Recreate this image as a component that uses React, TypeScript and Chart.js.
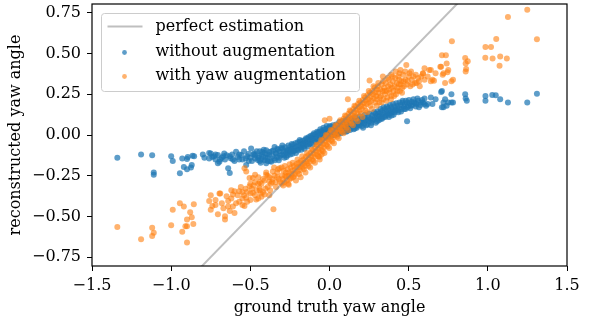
import React, { useEffect, useRef } from "react";
import { Chart, registerables } from "chart.js";

Chart.register(...registerables);

const FONT = "'DejaVu Serif', 'Liberation Serif', serif";

const xTicks = [-1.5, -1.0, -0.5, 0.0, 0.5, 1.0, 1.5];
const yTicks = [-0.75, -0.5, -0.25, 0.0, 0.25, 0.5, 0.75];
const xRange = [-1.5, 1.5];
const yRange = [-0.805, 0.805];
const xTitle = "ground truth yaw angle";
const yTitle = "reconstructed yaw angle";
const legendLabels = ["perfect estimation", "without augmentation", "with yaw augmentation"];

const perfectLine: [number, number][] = [[-1.5, -1.5], [1.5, 1.5]];

const withoutAugmentationA: [number, number][] = [
  [-1.34, -0.14], [-1.19, -0.12], [-1.12, -0.125], [-1.11, -0.23], [-1.11, -0.245], [-1.0, -0.13], [-0.99, -0.16],
  [-0.945, -0.235], [-0.93, -0.145], [-0.92, -0.196], [-0.9, -0.148], [-0.9, -0.21], [-0.895, -0.135], [-0.87, -0.184],
  [-0.865, -0.127], [-0.855, -0.13], [-0.875, -0.2], [-0.8, -0.12], [-0.79, -0.14],
  [-0.76, -0.11], [-0.76, -0.145], [-0.75, -0.113], [-0.74, -0.135], [-0.73, -0.13], [-0.72, -0.15], [-0.705, -0.123],
  [-0.705, -0.174], [-0.695, -0.164], [-0.68, -0.14], [-0.665, -0.113], [-0.66, -0.15], [-0.65, -0.125], [-0.64, -0.204],
  [-0.63, -0.234], [-0.625, -0.143], [-0.615, -0.12], [-0.6, -0.16], [-0.59, -0.103], [-0.58, -0.135], [-0.57, -0.15],
  [-0.558, -0.123], [-0.55, -0.15], [-0.54, -0.1], [-0.526, -0.184], [-0.52, -0.13], [-0.51, -0.115], [-0.5, -0.14],
  [-0.495, -0.083], [-0.49, -0.16], [-0.48, -0.12], [-0.474, -0.113], [-0.47, -0.145], [-0.46, -0.1], [-0.453, -0.153],
  [-0.445, -0.13], [-0.44, -0.1], [-0.435, -0.17], [-0.43, -0.12], [-0.42, -0.133], [-0.415, -0.09], [-0.41, -0.155],
  [-0.4, -0.093], [-0.4, -0.174], [-0.395, -0.12], [-0.39, -0.14], [-0.38, -0.123], [-0.38, -0.105], [-0.375, -0.16],
  [-0.368, -0.164], [-0.36, -0.13], [-0.355, -0.095], [-0.35, -0.145], [-0.347, -0.073], [-0.34, -0.11], [-0.337, -0.113],
  [-0.33, -0.135], [-0.325, -0.09], [-0.32, -0.155], [-0.315, -0.1], [-0.31, -0.125], [-0.305, -0.08],
  [-0.72, -0.12], [-0.69, -0.15], [-0.67, -0.13], [-0.63, -0.13], [-0.61, -0.15], [-0.57, -0.12], [-0.53, -0.145],
  [-0.51, -0.16], [-0.47, -0.125], [-0.45, -0.14], [-0.43, -0.15], [-0.41, -0.11],
];

const withoutAugmentationB: [number, number][] = [
  [-0.3, -0.12], [-0.295, -0.085], [-0.29, -0.1], [-0.285, -0.14], [-0.28, -0.075], [-0.275, -0.11], [-0.27, -0.095],
  [-0.265, -0.125], [-0.26, -0.065], [-0.255, -0.09], [-0.25, -0.105], [-0.245, -0.07], [-0.24, -0.085], [-0.235, -0.115],
  [-0.23, -0.06], [-0.225, -0.08], [-0.22, -0.095], [-0.215, -0.05], [-0.21, -0.07], [-0.205, -0.088], [-0.2, -0.045],
  [-0.195, -0.065], [-0.19, -0.08], [-0.185, -0.04], [-0.18, -0.055], [-0.175, -0.075], [-0.17, -0.035], [-0.165, -0.05],
  [-0.16, -0.068], [-0.155, -0.03], [-0.15, -0.045], [-0.145, -0.06], [-0.14, -0.022], [-0.135, -0.04], [-0.13, -0.012],
  [-0.125, -0.03], [-0.12, -0.05], [-0.115, -0.015], [-0.11, -0.028], [-0.105, 0.0], [-0.1, -0.018], [-0.095, -0.035],
  [-0.09, 0.005], [-0.085, -0.01], [-0.08, -0.025], [-0.075, 0.012], [-0.07, -0.005], [-0.065, 0.02], [-0.06, -0.015],
  [-0.055, 0.008], [-0.05, 0.025], [-0.045, -0.002], [-0.04, 0.018], [-0.035, 0.03], [-0.03, 0.005], [-0.025, 0.022],
  [-0.02, 0.038], [-0.015, 0.01], [-0.01, 0.028], [-0.005, 0.045], [0.0, 0.015], [0.005, 0.03], [0.01, 0.05],
  [0.015, 0.02], [0.02, 0.035], [0.03, 0.01], [0.035, 0.042], [0.04, 0.025], [0.05, 0.055], [0.055, 0.03],
  [0.06, 0.015], [0.065, 0.045], [0.07, 0.06], [0.075, 0.028], [0.08, 0.04], [0.09, 0.065], [0.095, 0.035],
  [0.1, 0.05], [0.105, 0.02], [0.11, 0.07], [0.115, 0.04], [0.12, 0.055], [0.13, 0.03], [0.135, 0.075],
  [0.14, 0.045], [0.15, 0.06], [0.155, 0.085], [0.16, 0.04], [0.17, 0.07], [0.175, 0.055], [0.18, 0.09],
  [0.19, 0.06], [0.195, 0.078], [0.2, 0.1], [0.205, 0.055], [0.21, 0.085], [0.22, 0.07], [0.225, 0.105],
  [0.23, 0.09], [0.24, 0.065], [0.245, 0.11], [0.25, 0.085], [0.26, 0.1], [0.265, 0.075], [0.27, 0.12],
  [0.28, 0.095], [0.285, 0.11], [0.29, 0.13], [0.3, 0.085], [0.3, 0.115],
  [-0.44, -0.16], [-0.425, -0.105], [-0.405, -0.14], [-0.39, -0.16], [-0.365, -0.1], [-0.345, -0.155], [-0.33, -0.085],
  [-0.318, -0.14], [-0.298, -0.065], [-0.288, -0.125], [-0.272, -0.135], [-0.262, -0.1], [-0.248, -0.12], [-0.238, -0.055],
  [-0.228, -0.1], [-0.212, -0.11], [-0.198, -0.095], [-0.188, -0.03], [-0.178, -0.09], [-0.168, -0.06], [-0.158, -0.085],
  [-0.148, -0.02], [-0.138, -0.07], [-0.128, -0.055], [-0.118, -0.005], [-0.108, -0.06], [-0.098, 0.01], [-0.088, -0.045],
  [-0.078, 0.02], [-0.068, -0.035], [-0.058, 0.035], [-0.048, -0.025], [-0.038, 0.045], [-0.028, -0.015], [-0.018, 0.055],
  [-0.008, -0.01], [0.002, 0.055], [0.012, -0.005], [0.022, 0.06], [0.032, 0.0], [0.042, 0.065], [0.052, 0.005],
  [0.062, 0.08], [0.072, 0.01], [0.082, 0.085], [0.092, 0.02], [0.102, 0.09], [0.112, 0.025], [0.122, 0.095],
  [0.132, 0.05], [0.142, 0.1], [0.152, 0.035], [0.162, 0.11], [0.172, 0.045], [0.182, 0.065], [0.192, 0.115],
  [0.202, 0.075], [0.212, 0.045], [0.222, 0.125], [0.232, 0.06], [0.242, 0.095], [0.252, 0.13], [0.262, 0.06],
  [0.272, 0.09], [0.282, 0.14], [0.292, 0.075],
];

const withoutAugmentationC: [number, number][] = [
  [0.305, 0.1], [0.31, 0.13], [0.315, 0.115], [0.32, 0.14], [0.325, 0.1], [0.33, 0.125], [0.335, 0.15],
  [0.34, 0.11], [0.345, 0.135], [0.35, 0.16], [0.355, 0.12], [0.36, 0.145], [0.365, 0.13], [0.37, 0.165],
  [0.375, 0.11], [0.38, 0.15], [0.385, 0.135], [0.39, 0.17], [0.395, 0.14], [0.4, 0.155], [0.405, 0.125],
  [0.41, 0.175], [0.415, 0.15], [0.42, 0.16], [0.43, 0.18], [0.435, 0.14], [0.44, 0.165], [0.45, 0.185],
  [0.455, 0.16], [0.46, 0.2], [0.47, 0.175], [0.475, 0.19], [0.48, 0.16], [0.49, 0.085], [0.49, 0.2],
  [0.5, 0.18], [0.505, 0.195], [0.51, 0.165], [0.52, 0.205], [0.525, 0.185], [0.535, 0.2], [0.545, 0.175],
  [0.55, 0.19], [0.56, 0.21], [0.575, 0.185], [0.58, 0.2], [0.59, 0.2], [0.6, 0.225], [0.61, 0.18], [0.62, 0.19],
  [0.302, 0.145], [0.312, 0.09], [0.322, 0.16], [0.332, 0.1], [0.342, 0.17], [0.352, 0.11], [0.362, 0.175],
  [0.372, 0.125], [0.382, 0.185], [0.392, 0.12], [0.402, 0.19], [0.412, 0.14], [0.422, 0.195], [0.432, 0.15],
  [0.442, 0.2], [0.452, 0.145], [0.462, 0.21], [0.472, 0.16], [0.482, 0.21], [0.492, 0.17], [0.502, 0.215],
  [0.515, 0.18], [0.53, 0.22], [0.545, 0.195], [0.555, 0.225], [0.565, 0.17], [0.585, 0.215], [0.6, 0.19],
  [0.64, 0.23], [0.65, 0.19], [0.67, 0.22], [0.705, 0.265], [0.71, 0.27], [0.71, 0.17], [0.72, 0.2], [0.72, 0.17],
  [0.73, 0.22], [0.74, 0.18], [0.75, 0.2], [0.77, 0.25], [0.77, 0.2], [0.78, 0.2], [0.857, 0.25], [0.86, 0.225],
  [0.867, 0.21], [0.985, 0.24], [0.985, 0.21], [1.028, 0.246], [1.05, 0.245], [1.078, 0.22], [1.127, 0.2],
  [1.249, 0.2], [1.31, 0.253],
];

const withYawAugmentationA: [number, number][] = [
  [-1.34, -0.565], [-1.19, -0.64], [-1.12, -0.57], [-1.11, -0.6], [-1.12, -0.62], [-1.0, -0.555], [-0.99, -0.46],
  [-0.945, -0.42], [-0.92, -0.44], [-0.93, -0.595], [-0.91, -0.56], [-0.9, -0.56], [-0.9, -0.52], [-0.9, -0.66],
  [-0.88, -0.475], [-0.87, -0.505], [-0.857, -0.426], [-0.86, -0.547], [-0.76, -0.406], [-0.75, -0.46], [-0.695, -0.36],
  [-0.74, -0.436], [-0.705, -0.487], [-0.66, -0.52], [-0.63, -0.467], [-0.6, -0.48], [-0.64, -0.406], [-0.61, -0.366],
  [-0.57, -0.345], [-0.537, -0.436], [-0.526, -0.386], [-0.484, -0.355], [-0.505, -0.315], [-0.463, -0.396],
  [-0.442, -0.325], [-0.41, -0.366], [-0.38, -0.285], [-0.4, -0.244], [-0.526, -0.224], [-0.484, -0.265],
  [-0.358, -0.224], [-0.316, -0.204], [-0.354, -0.456], [-0.257, -0.305],
  [-0.537, -0.204], [-0.505, -0.265], [-0.47, -0.245], [-0.44, -0.29], [-0.4, -0.23], [-0.38, -0.26], [-0.35, -0.2],
  [-0.33, -0.26], [-0.6, -0.345], [-0.53, -0.33], [-0.5, -0.36], [-0.55, -0.39], [-0.59, -0.42], [-0.65, -0.376],
  [-0.69, -0.36], [-0.72, -0.4], [-0.75, -0.37], [-0.67, -0.45], [-0.61, -0.44], [-0.55, -0.43], [-0.5, -0.4],
  [-0.45, -0.39], [-0.42, -0.35], [-0.38, -0.37], [-0.66, -0.5], [-0.58, -0.37], [-0.56, -0.32], [-0.52, -0.35],
  [-0.48, -0.31], [-0.46, -0.34], [-0.43, -0.3], [-0.41, -0.28], [-0.39, -0.32], [-0.37, -0.3], [-0.36, -0.27],
  [-0.34, -0.29], [-0.33, -0.23], [-0.32, -0.27],
  [-0.72, -0.43], [-0.68, -0.42], [-0.64, -0.44], [-0.62, -0.39], [-0.57, -0.41], [-0.54, -0.37], [-0.52, -0.41],
  [-0.49, -0.33], [-0.47, -0.37], [-0.44, -0.34], [-0.43, -0.38], [-0.47, -0.29], [-0.45, -0.26], [-0.5, -0.3],
  [-0.55, -0.35], [-0.62, -0.34],
];

const withYawAugmentationB: [number, number][] = [
  [-0.3, -0.25], [-0.3, -0.3], [-0.295, -0.27], [-0.29, -0.22], [-0.285, -0.29], [-0.28, -0.25], [-0.275, -0.23],
  [-0.27, -0.28], [-0.265, -0.21], [-0.26, -0.25], [-0.255, -0.23], [-0.25, -0.27], [-0.245, -0.2], [-0.24, -0.24],
  [-0.235, -0.22], [-0.23, -0.26], [-0.225, -0.19], [-0.22, -0.215], [-0.215, -0.24], [-0.21, -0.18], [-0.205, -0.2],
  [-0.2, -0.225], [-0.195, -0.17], [-0.19, -0.195], [-0.185, -0.215], [-0.18, -0.16], [-0.175, -0.18], [-0.17, -0.2],
  [-0.165, -0.15], [-0.16, -0.17], [-0.155, -0.19], [-0.15, -0.135], [-0.145, -0.16], [-0.14, -0.175], [-0.135, -0.125],
  [-0.13, -0.145], [-0.125, -0.165], [-0.12, -0.11], [-0.115, -0.13], [-0.11, -0.15], [-0.105, -0.095], [-0.1, -0.115],
  [-0.095, -0.135], [-0.09, -0.08], [-0.085, -0.1], [-0.08, -0.12], [-0.075, -0.065], [-0.07, -0.085], [-0.065, -0.105],
  [-0.063, -0.133], [-0.06, -0.05], [-0.055, -0.07], [-0.05, -0.09], [-0.05, -0.12], [-0.045, -0.035], [-0.04, -0.055],
  [-0.035, -0.075], [-0.03, 0.09], [-0.03, -0.02], [-0.025, -0.04], [-0.02, -0.06], [-0.015, -0.005], [-0.01, -0.025],
  [-0.005, -0.045], [0.0, 0.1], [0.0, 0.01], [0.005, -0.01], [0.01, -0.03], [0.015, 0.025], [0.02, 0.005],
  [0.025, -0.015], [0.03, 0.04], [0.035, 0.02], [0.04, 0.0], [0.045, 0.055], [0.05, 0.035], [0.055, 0.015],
  [0.06, 0.07], [0.065, 0.05], [0.07, 0.03], [0.075, 0.085], [0.08, 0.065], [0.085, 0.045], [0.09, 0.1],
  [0.095, 0.08], [0.1, 0.06], [0.105, 0.115], [0.11, 0.095], [0.115, 0.075], [0.116, 0.22], [0.12, 0.13],
  [0.125, 0.11], [0.13, 0.09], [0.135, 0.145], [0.14, 0.125], [0.145, 0.105], [0.15, 0.16], [0.155, 0.14],
  [0.16, 0.12], [0.165, 0.175], [0.17, 0.155], [0.175, 0.135], [0.18, 0.19], [0.185, 0.17], [0.19, 0.15],
  [0.195, 0.2], [0.2, 0.18], [0.205, 0.16], [0.21, 0.215], [0.215, 0.195], [0.22, 0.175], [0.225, 0.23],
  [0.23, 0.21], [0.235, 0.19], [0.24, 0.245], [0.245, 0.22], [0.25, 0.2], [0.253, 0.335], [0.255, 0.26],
  [0.26, 0.235], [0.265, 0.21], [0.27, 0.27], [0.275, 0.25], [0.28, 0.225], [0.285, 0.29], [0.29, 0.26],
  [0.295, 0.24], [0.3, 0.28],
  [-0.45, -0.3], [-0.435, -0.36], [-0.42, -0.27], [-0.405, -0.33], [-0.39, -0.25], [-0.375, -0.34], [-0.362, -0.29],
  [-0.348, -0.25], [-0.338, -0.32], [-0.325, -0.21], [-0.312, -0.29], [-0.302, -0.2], [-0.292, -0.31], [-0.282, -0.19],
  [-0.272, -0.255], [-0.262, -0.3], [-0.252, -0.18], [-0.242, -0.265], [-0.232, -0.17], [-0.222, -0.25], [-0.212, -0.28],
  [-0.202, -0.15], [-0.192, -0.24], [-0.182, -0.26], [-0.172, -0.13], [-0.162, -0.21], [-0.152, -0.23], [-0.142, -0.11],
  [-0.132, -0.19], [-0.122, -0.2], [-0.112, -0.09], [-0.102, -0.16], [-0.092, -0.17], [-0.082, -0.06], [-0.072, -0.13],
  [-0.062, -0.15], [-0.052, -0.03], [-0.042, -0.1], [-0.032, -0.11], [-0.022, 0.0], [-0.012, -0.07], [-0.002, -0.08],
  [0.008, 0.03], [0.018, -0.04], [0.028, -0.05], [0.038, 0.06], [0.048, -0.01], [0.058, -0.02], [0.068, 0.09],
  [0.078, 0.02], [0.088, 0.01], [0.098, 0.12], [0.108, 0.045], [0.118, 0.03], [0.128, 0.15], [0.138, 0.07],
  [0.148, 0.06], [0.158, 0.18], [0.168, 0.1], [0.178, 0.085], [0.188, 0.21], [0.198, 0.13], [0.208, 0.11],
  [0.218, 0.24], [0.228, 0.15], [0.238, 0.14], [0.248, 0.27], [0.258, 0.18], [0.268, 0.16], [0.278, 0.3],
  [0.288, 0.2], [0.298, 0.18],
];

const withYawAugmentationC: [number, number][] = [
  [0.3, 0.22], [0.305, 0.3], [0.31, 0.26], [0.315, 0.2], [0.32, 0.28], [0.325, 0.24], [0.33, 0.31], [0.335, 0.27],
  [0.337, 0.36], [0.34, 0.22], [0.345, 0.29], [0.35, 0.25], [0.355, 0.32], [0.36, 0.27], [0.365, 0.23], [0.37, 0.3],
  [0.375, 0.34], [0.38, 0.26], [0.385, 0.31], [0.39, 0.37], [0.39, 0.24], [0.395, 0.29], [0.4, 0.33], [0.405, 0.27],
  [0.41, 0.3], [0.415, 0.35], [0.42, 0.25], [0.425, 0.32], [0.43, 0.29], [0.435, 0.36], [0.44, 0.34], [0.442, 0.38],
  [0.445, 0.27], [0.45, 0.31], [0.455, 0.33], [0.46, 0.29], [0.465, 0.37], [0.47, 0.3], [0.48, 0.34], [0.485, 0.43],
  [0.49, 0.31], [0.5, 0.36], [0.505, 0.38], [0.51, 0.3], [0.52, 0.34], [0.53, 0.36], [0.54, 0.32], [0.55, 0.32],
  [0.56, 0.35], [0.57, 0.3], [0.59, 0.376], [0.59, 0.38], [0.6, 0.34],
  [0.308, 0.32], [0.318, 0.23], [0.328, 0.2], [0.338, 0.33], [0.348, 0.27], [0.358, 0.21], [0.368, 0.35],
  [0.378, 0.28], [0.388, 0.22], [0.398, 0.36], [0.408, 0.24], [0.418, 0.39], [0.428, 0.27], [0.438, 0.31],
  [0.448, 0.4], [0.458, 0.26], [0.468, 0.33], [0.478, 0.39], [0.495, 0.33], [0.515, 0.39], [0.525, 0.31],
  [0.545, 0.37], [0.565, 0.33], [0.58, 0.36], [0.6, 0.41], [0.62, 0.36],
  [0.63, 0.4], [0.64, 0.4], [0.64, 0.33], [0.65, 0.34], [0.66, 0.333], [0.67, 0.38], [0.7, 0.42], [0.705, 0.42],
  [0.71, 0.49], [0.715, 0.37], [0.72, 0.38], [0.73, 0.32], [0.735, 0.49], [0.74, 0.44], [0.745, 0.385], [0.75, 0.4],
  [0.77, 0.33], [0.773, 0.576], [0.78, 0.34], [0.857, 0.473], [0.86, 0.44], [0.86, 0.39], [0.863, 0.406],
  [0.873, 0.453], [0.984, 0.475], [0.985, 0.54], [1.02, 0.54], [1.03, 0.47], [1.053, 0.59], [1.074, 0.426],
  [1.078, 0.483], [1.12, 0.47], [1.127, 0.725], [1.249, 0.77], [1.31, 0.588],
];

const BLUE = "rgba(31,119,180,0.72)";
const ORANGE = "rgba(255,127,14,0.6)";
const GRAY = "rgba(128,128,128,0.5)";

const fmt = (v: number, d: number) => v.toFixed(d).replace("-", "\u2212");
const toPts = (...arrs: [number, number][][]) => arrs.flat().map(([x, y]) => ({ x, y }));

const framePlugin = {
  id: "frame",
  afterDatasetsDraw(chart: any) {
    const { ctx, chartArea } = chart;
    ctx.save();
    ctx.strokeStyle = "#000";
    ctx.lineWidth = 1.2;
    ctx.strokeRect(chartArea.left, chartArea.top, chartArea.right - chartArea.left, chartArea.bottom - chartArea.top);
    ctx.restore();
  },
};

const legendPlugin = {
  id: "mplLegend",
  afterDraw(chart: any) {
    const { ctx, chartArea } = chart;
    const bx = chartArea.left + 9.5;
    const by = chartArea.top + 9.5;
    const bw = 258;
    const bh = 78;
    const r = 3;
    ctx.save();
    ctx.beginPath();
    ctx.moveTo(bx + r, by);
    ctx.lineTo(bx + bw - r, by);
    ctx.arcTo(bx + bw, by, bx + bw, by + r, r);
    ctx.lineTo(bx + bw, by + bh - r);
    ctx.arcTo(bx + bw, by + bh, bx + bw - r, by + bh, r);
    ctx.lineTo(bx + r, by + bh);
    ctx.arcTo(bx, by + bh, bx, by + bh - r, r);
    ctx.lineTo(bx, by + r);
    ctx.arcTo(bx, by, bx + r, by, r);
    ctx.closePath();
    ctx.fillStyle = "rgba(255,255,255,0.8)";
    ctx.fill();
    ctx.strokeStyle = "#cccccc";
    ctx.lineWidth = 1;
    ctx.stroke();

    const rows = [by + 13, by + 38, by + 62];
    const tx = bx + 54;
    ctx.strokeStyle = GRAY;
    ctx.lineWidth = 2;
    ctx.beginPath();
    ctx.moveTo(bx + 6, rows[0]);
    ctx.lineTo(bx + 41, rows[0]);
    ctx.stroke();
    ctx.fillStyle = BLUE;
    ctx.beginPath();
    ctx.arc(bx + 23, rows[1] + 1, 2.4, 0, Math.PI * 2);
    ctx.fill();
    ctx.fillStyle = ORANGE;
    ctx.beginPath();
    ctx.arc(bx + 23, rows[2] + 1, 2.4, 0, Math.PI * 2);
    ctx.fill();
    ctx.fillStyle = "#000";
    ctx.font = `16px ${FONT}`;
    ctx.textBaseline = "middle";
    ctx.textAlign = "left";
    legendLabels.forEach((t, i) => ctx.fillText(t, tx, rows[i]));
    ctx.restore();
  },
};

export default function App() {
  const ref = useRef<HTMLCanvasElement | null>(null);

  useEffect(() => {
    if (!ref.current) return;
    const chart = new Chart(ref.current, {
      type: "scatter",
      data: {
        datasets: [
          {
            label: legendLabels[0],
            data: toPts(perfectLine),
            showLine: true,
            borderColor: GRAY,
            borderWidth: 2,
            pointRadius: 0,
            order: 0,
            clip: 0,
          } as any,
          {
            label: legendLabels[1],
            data: toPts(withoutAugmentationA, withoutAugmentationB, withoutAugmentationC),
            backgroundColor: BLUE,
            borderWidth: 0,
            pointRadius: 3,
            order: 2,
            clip: 0,
          },
          {
            label: legendLabels[2],
            data: toPts(withYawAugmentationA, withYawAugmentationB, withYawAugmentationC),
            backgroundColor: ORANGE,
            borderWidth: 0,
            pointRadius: 3,
            order: 1,
            clip: 0,
          },
        ],
      },
      options: {
        animation: false,
        responsive: false,
        events: [],
        layout: { padding: { top: 1, right: 31, left: 0, bottom: 0 } },
        plugins: { legend: { display: false }, tooltip: { enabled: false } },
        scales: {
          x: {
            type: "linear",
            min: xRange[0],
            max: xRange[1],
            afterBuildTicks: (s: any) => {
              s.ticks = xTicks.map((v) => ({ value: v }));
            },
            afterFit: (s: any) => {
              s.height = 51;
              s.paddingLeft = 0;
              s.paddingRight = 0;
            },
            ticks: {
              callback: (v: any) => fmt(Number(v), 1),
              font: { family: FONT, size: 16 },
              color: "#000",
              padding: 5,
              maxRotation: 0,
              autoSkip: false,
            },
            grid: { drawOnChartArea: false, drawTicks: true, tickLength: 5, color: "#000", tickWidth: 1 },
            border: { display: false },
            title: {
              display: true,
              text: xTitle,
              font: { family: FONT, size: 16 },
              color: "#000",
              padding: { top: 0, bottom: 0 },
            },
          },
          y: {
            type: "linear",
            min: yRange[0],
            max: yRange[1],
            afterBuildTicks: (s: any) => {
              s.ticks = yTicks.map((v) => ({ value: v }));
            },
            afterFit: (s: any) => {
              s.width = 92;
              s.paddingTop = 0;
              s.paddingBottom = 0;
            },
            ticks: {
              callback: (v: any) => fmt(Number(v), 2),
              font: { family: FONT, size: 16 },
              color: "#000",
              padding: 6,
              autoSkip: false,
            },
            grid: { drawOnChartArea: false, drawTicks: true, tickLength: 5, color: "#000", tickWidth: 1 },
            border: { display: false },
            title: {
              display: true,
              text: yTitle,
              font: { family: FONT, size: 16 },
              color: "#000",
              padding: { top: 6, bottom: 0 },
            },
          },
        },
      },
      plugins: [framePlugin, legendPlugin],
    });
    return () => chart.destroy();
  }, []);

  return (
    <div style={{ position: "absolute", left: 0, top: 0, width: 598, height: 317, background: "#fff" }}>
      <canvas ref={ref} width={598} height={317} style={{ display: "block" }} />
    </div>
  );
}
